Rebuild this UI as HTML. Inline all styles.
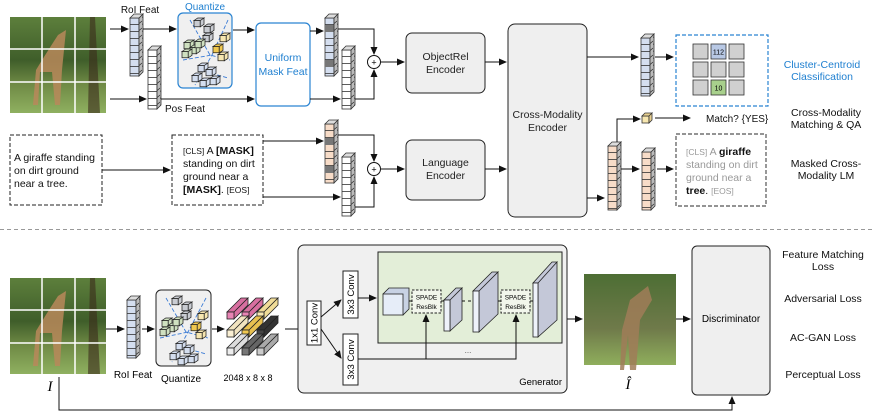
<!DOCTYPE html>
<html><head><meta charset="utf-8"><style>
body{margin:0;background:#fff}
svg{display:block;font-family:"Liberation Sans",sans-serif}
</style></head><body>
<svg width="872" height="417" viewBox="0 0 872 417" xmlns="http://www.w3.org/2000/svg">
<defs>
<marker id="a" markerWidth="8" markerHeight="8" refX="7" refY="4" orient="auto" markerUnits="userSpaceOnUse"><path d="M0,0.5 L8,4 L0,7.5z" fill="#111"/></marker>
<pattern id="pb" width="9" height="7" patternUnits="userSpaceOnUse"><rect width="9" height="7" fill="#d4deef"/><path d="M0,6.5H9" stroke="#333" stroke-width="0.8"/></pattern>
<pattern id="pw" width="9" height="7" patternUnits="userSpaceOnUse"><rect width="9" height="7" fill="#fff"/><path d="M0,6.5H9" stroke="#333" stroke-width="0.8"/></pattern>
<pattern id="po" width="9" height="7" patternUnits="userSpaceOnUse"><rect width="9" height="7" fill="#f7dcc8"/><path d="M0,6.5H9" stroke="#333" stroke-width="0.8"/></pattern>
<pattern id="ps" width="4" height="7" patternUnits="userSpaceOnUse"><rect width="4" height="7" fill="#bbb"/><path d="M0,6.5L4,3" stroke="#333" stroke-width="0.8"/></pattern>
<linearGradient id="img" x1="0" y1="0" x2="0" y2="1"><stop offset="0" stop-color="#5d7f3c"/><stop offset="0.45" stop-color="#3f5e2a"/><stop offset="0.7" stop-color="#6f8a45"/><stop offset="1" stop-color="#8fb060"/></linearGradient>
<linearGradient id="img2" x1="0" y1="0" x2="0" y2="1"><stop offset="0" stop-color="#4d6e34"/><stop offset="0.6" stop-color="#6f7a4a"/><stop offset="1" stop-color="#8fae5c"/></linearGradient>
<g id="cube"><g transform="scale(1.25)"><rect x="0" y="2" width="5" height="5" fill="currentColor" stroke="#222" stroke-width="0.6"/><path d="M0,2 L3,0 L8,0 L5,2z M5,2 L8,0 L8,5 L5,7z" fill="currentColor" stroke="#222" stroke-width="0.6"/></g></g>
</defs>

<!-- ===== TOP ===== -->
<rect x="10" y="17" width="96" height="96" fill="url(#img)"/>
<path d="M95,17 L100,113 L88,113 L90,17z" fill="#3a2a1a" opacity="0.6"/>
<path d="M58,35 L66,30 L62,70 L60,105 L55,105 L52,72 L40,72 L38,105 L33,105 L36,70 Q45,55 58,35z" fill="#b9885a" opacity="0.85"/>
<path d="M42,17V113M75,17V113M10,49H106M10,82H106" stroke="#fff" stroke-width="1.5"/>

<text x="140" y="13" font-size="10" text-anchor="middle" fill="#111">RoI Feat</text>
<text x="205" y="10" font-size="10" text-anchor="middle" fill="#1e7fd0">Quantize</text>
<text x="165" y="112" font-size="10" fill="#111">Pos Feat</text>

<g transform="translate(130,18)"><rect width="9" height="58" fill="url(#pb)" stroke="#333" stroke-width="0.8"/><path d="M9,0 L13,-4 L13,54 L9,58z" fill="url(#ps)" stroke="#333" stroke-width="0.8"/><path d="M0,0 L4,-4 L13,-4 L9,0z" fill="#ddd" stroke="#333" stroke-width="0.8"/></g>
<g transform="translate(148,50)"><rect width="9" height="59" fill="url(#pw)" stroke="#333" stroke-width="0.8"/><path d="M9,0 L13,-4 L13,55 L9,59z" fill="url(#ps)" stroke="#333" stroke-width="0.8"/><path d="M0,0 L4,-4 L13,-4 L9,0z" fill="#ddd" stroke="#333" stroke-width="0.8"/></g>

<path d="M110,29H128" stroke="#111" marker-end="url(#a)"/>
<path d="M143,29H176" stroke="#111" marker-end="url(#a)"/>
<path d="M110,99H146" stroke="#111" marker-end="url(#a)"/>
<path d="M161,99H254" stroke="#111" marker-end="url(#a)"/>

<rect x="178" y="13" width="54" height="75" rx="5" fill="#f0f0f0" stroke="#2a84d2" stroke-width="1.2"/>
<g stroke="#3a7bd5" stroke-width="0.9" stroke-dasharray="4,2" fill="none"><path d="M190,20 L210,55 L230,60 M228,20 L212,55 L195,85 M183,60 L212,55 M200,70 L228,78"/></g>
<g color="#c9ccd2"><use href="#cube" x="194" y="18"/><use href="#cube" x="204" y="24"/><use href="#cube" x="203" y="33"/></g>
<g color="#cfe0c0"><use href="#cube" x="184" y="40"/><use href="#cube" x="190" y="45"/><use href="#cube" x="182" y="49"/><use href="#cube" x="195" y="39"/></g>
<g color="#f7e7b0"><use href="#cube" x="220" y="33"/><use href="#cube" x="218" y="52"/></g><g color="#f0c850"><use href="#cube" x="213" y="44"/></g>
<g color="#d4deef"><use href="#cube" x="198" y="63"/><use href="#cube" x="206" y="67"/><use href="#cube" x="192" y="73"/><use href="#cube" x="210" y="76"/><use href="#cube" x="200" y="78"/></g>
<path d="M233,30H254" stroke="#111" marker-end="url(#a)"/>

<rect x="256" y="23" width="54" height="83" rx="5" fill="#fff" stroke="#2a84d2" stroke-width="1.2"/>
<text x="283" y="61" font-size="10.5" text-anchor="middle" fill="#1e7fd0">Uniform</text>
<text x="283" y="75" font-size="10.5" text-anchor="middle" fill="#1e7fd0">Mask Feat</text>

<g transform="translate(325,18)"><rect width="9" height="58" fill="url(#pb)" stroke="#333" stroke-width="0.8"/><rect y="7" width="9" height="7" fill="#777"/><rect y="42" width="9" height="7" fill="#777"/><path d="M9,0 L13,-4 L13,54 L9,58z" fill="url(#ps)" stroke="#333" stroke-width="0.8"/><path d="M0,0 L4,-4 L13,-4 L9,0z" fill="#ddd" stroke="#333" stroke-width="0.8"/></g>
<g transform="translate(342,50)"><rect width="9" height="59" fill="url(#pw)" stroke="#333" stroke-width="0.8"/><path d="M9,0 L13,-4 L13,55 L9,59z" fill="url(#ps)" stroke="#333" stroke-width="0.8"/><path d="M0,0 L4,-4 L13,-4 L9,0z" fill="#ddd" stroke="#333" stroke-width="0.8"/></g>
<path d="M310,31H323" stroke="#111" marker-end="url(#a)"/>
<path d="M310,99H340" stroke="#111" marker-end="url(#a)"/>
<path d="M338,29H374V54" stroke="#111" fill="none" marker-end="url(#a)"/>
<path d="M355,99H374V70" stroke="#111" fill="none" marker-end="url(#a)"/>
<circle cx="374" cy="62" r="6.5" fill="#fff" stroke="#111"/><text x="374" y="65.5" font-size="9" text-anchor="middle">+</text>
<path d="M381,62H404" stroke="#111" marker-end="url(#a)"/>

<rect x="406" y="33" width="79" height="60" rx="6" fill="#efefef" stroke="#222"/>
<text x="445.5" y="60" font-size="10.5" text-anchor="middle" fill="#222">ObjectRel</text>
<text x="445.5" y="73" font-size="10.5" text-anchor="middle" fill="#222">Encoder</text>
<path d="M485,62H506" stroke="#111" marker-end="url(#a)"/>

<rect x="508" y="24" width="79" height="193" rx="7" fill="#efefef" stroke="#222"/>
<text x="547.5" y="118" font-size="10.5" text-anchor="middle" fill="#222">Cross-Modality</text>
<text x="547.5" y="131" font-size="10.5" text-anchor="middle" fill="#222">Encoder</text>

<rect x="10" y="135" width="92" height="70" fill="none" stroke="#222" stroke-dasharray="4,2"/>
<text font-size="10.5" fill="#111"><tspan x="14" y="161">A giraffe standing</tspan><tspan x="14" y="174">on dirt ground</tspan><tspan x="14" y="187">near a tree.</tspan></text>
<path d="M102,170H170" stroke="#111" marker-end="url(#a)"/>
<rect x="172" y="135" width="91" height="70" fill="none" stroke="#222" stroke-dasharray="4,2"/>
<text font-size="10.5" fill="#111"><tspan x="183" y="154"><tspan font-size="8.5">[CLS]</tspan> A <tspan font-weight="bold">[MASK]</tspan></tspan><tspan x="183" y="167">standing on dirt</tspan><tspan x="183" y="180">ground near a</tspan><tspan x="183" y="193"><tspan font-weight="bold">[MASK]</tspan>. <tspan font-size="8.5">[EOS]</tspan></tspan></text>

<g transform="translate(325,124)"><rect width="9" height="59" fill="url(#po)" stroke="#333" stroke-width="0.8"/><rect y="14" width="9" height="7" fill="#777"/><rect y="42" width="9" height="7" fill="#777"/><path d="M9,0 L13,-4 L13,55 L9,59z" fill="url(#ps)" stroke="#333" stroke-width="0.8"/><path d="M0,0 L4,-4 L13,-4 L9,0z" fill="#ddd" stroke="#333" stroke-width="0.8"/></g>
<g transform="translate(342,157)"><rect width="9" height="59" fill="url(#pw)" stroke="#333" stroke-width="0.8"/><path d="M9,0 L13,-4 L13,55 L9,59z" fill="url(#ps)" stroke="#333" stroke-width="0.8"/><path d="M0,0 L4,-4 L13,-4 L9,0z" fill="#ddd" stroke="#333" stroke-width="0.8"/></g>
<path d="M263,141H323" stroke="#111" marker-end="url(#a)"/>
<path d="M263,197H340" stroke="#111" marker-end="url(#a)"/>
<path d="M338,135H374V161" stroke="#111" fill="none" marker-end="url(#a)"/>
<path d="M355,207H374V177" stroke="#111" fill="none" marker-end="url(#a)"/>
<circle cx="374" cy="169" r="6.5" fill="#fff" stroke="#111"/><text x="374" y="172.5" font-size="9" text-anchor="middle">+</text>
<path d="M381,169H404" stroke="#111" marker-end="url(#a)"/>
<rect x="406" y="140" width="79" height="60" rx="6" fill="#efefef" stroke="#222"/>
<text x="445.5" y="166" font-size="10.5" text-anchor="middle" fill="#222">Language</text>
<text x="445.5" y="179" font-size="10.5" text-anchor="middle" fill="#222">Encoder</text>
<path d="M485,169H506" stroke="#111" marker-end="url(#a)"/>

<path d="M587,57H638" stroke="#111" marker-end="url(#a)"/>
<g transform="translate(641,38)"><rect width="9" height="58" fill="url(#pb)" stroke="#333" stroke-width="0.8"/><path d="M9,0 L13,-4 L13,54 L9,58z" fill="url(#ps)" stroke="#333" stroke-width="0.8"/><path d="M0,0 L4,-4 L13,-4 L9,0z" fill="#ddd" stroke="#333" stroke-width="0.8"/></g>
<path d="M655,57H673" stroke="#111" marker-end="url(#a)"/>
<rect x="676" y="35" width="92" height="71" fill="none" stroke="#2a84d2" stroke-width="1.2" stroke-dasharray="4,2"/>
<g stroke="#333" stroke-width="0.8">
<rect x="693" y="44" width="15" height="15" fill="#d0d0d0"/><rect x="711" y="44" width="15" height="15" fill="#b8c8e4"/><rect x="729" y="44" width="15" height="15" fill="#d0d0d0"/>
<rect x="693" y="62" width="15" height="15" fill="#d0d0d0"/><rect x="711" y="62" width="15" height="15" fill="#d0d0d0"/><rect x="729" y="62" width="15" height="15" fill="#d0d0d0"/>
<rect x="693" y="80" width="15" height="15" fill="#d0d0d0"/><rect x="711" y="80" width="15" height="15" fill="#a8d08c"/><rect x="729" y="80" width="15" height="15" fill="#d0d0d0"/></g>
<text x="718.5" y="54.5" font-size="7" text-anchor="middle">112</text>
<text x="718.5" y="90.5" font-size="7" text-anchor="middle">10</text>
<text x="822" y="68" font-size="10.5" text-anchor="middle" fill="#1e7fd0">Cluster-Centroid</text>
<text x="822" y="80" font-size="10.5" text-anchor="middle" fill="#1e7fd0">Classification</text>

<path d="M587,198H604" stroke="#111" marker-end="url(#a)"/>
<g transform="translate(608,146)"><rect width="9" height="64" fill="url(#po)" stroke="#333" stroke-width="0.8"/><path d="M9,0 L13,-4 L13,60 L9,64z" fill="url(#ps)" stroke="#333" stroke-width="0.8"/><path d="M0,0 L4,-4 L13,-4 L9,0z" fill="#ddd" stroke="#333" stroke-width="0.8"/></g>
<path d="M617,142V119H640" stroke="#111" fill="none" marker-end="url(#a)"/>
<g transform="translate(642,116)"><rect width="7" height="7" fill="#f7e7b0" stroke="#333" stroke-width="0.8"/><path d="M0,0 L3,-3 L10,-3 L7,0z M7,0 L10,-3 L10,4 L7,7z" fill="#e8d090" stroke="#333" stroke-width="0.8"/></g>
<path d="M655,118H690" stroke="#111" marker-end="url(#a)"/>
<text x="706" y="122" font-size="10" fill="#111">Match? {YES}</text>
<text x="826" y="116" font-size="10.5" text-anchor="middle" fill="#111">Cross-Modality</text>
<text x="826" y="128" font-size="10.5" text-anchor="middle" fill="#111">Matching &amp; QA</text>

<path d="M621,169H639" stroke="#111" marker-end="url(#a)"/>
<g transform="translate(642,152)"><rect width="9" height="58" fill="url(#po)" stroke="#333" stroke-width="0.8"/><path d="M9,0 L13,-4 L13,54 L9,58z" fill="url(#ps)" stroke="#333" stroke-width="0.8"/><path d="M0,0 L4,-4 L13,-4 L9,0z" fill="#ddd" stroke="#333" stroke-width="0.8"/></g>
<path d="M657,169H673" stroke="#111" marker-end="url(#a)"/>
<rect x="676" y="134" width="90" height="72" fill="none" stroke="#555" stroke-width="1.2" stroke-dasharray="4,2"/>
<text font-size="10.5" fill="#999"><tspan x="686" y="155"><tspan font-size="8.5">[CLS]</tspan> A <tspan font-weight="bold" fill="#111">giraffe</tspan></tspan><tspan x="686" y="168">standing on dirt</tspan><tspan x="686" y="181">ground near a</tspan><tspan x="686" y="194"><tspan font-weight="bold" fill="#111">tree</tspan><tspan fill="#111">.</tspan> <tspan font-size="8.5">[EOS]</tspan></tspan></text>
<text x="826" y="167" font-size="10.5" text-anchor="middle" fill="#111">Masked Cross-</text>
<text x="826" y="179" font-size="10.5" text-anchor="middle" fill="#111">Modality LM</text>

<path d="M0,229.5H872" stroke="#999" stroke-dasharray="4,3"/>

<!-- ===== BOTTOM ===== -->
<rect x="10" y="278" width="96" height="96" fill="url(#img)"/>
<path d="M95,278 L100,374 L88,374 L90,278z" fill="#3a2a1a" opacity="0.6"/>
<path d="M58,296 L66,291 L62,331 L60,366 L55,366 L52,333 L40,333 L38,366 L33,366 L36,331 Q45,316 58,296z" fill="#b9885a" opacity="0.85"/>
<path d="M42,278V374M75,278V374M10,310H106M10,343H106" stroke="#fff" stroke-width="1.5"/>
<text x="50" y="391" font-size="15" font-style="italic" font-family="Liberation Serif,serif" text-anchor="middle">I</text>
<path d="M59,377V410H732V397" stroke="#111" fill="none" marker-end="url(#a)"/>

<path d="M106,329H124" stroke="#111" marker-end="url(#a)"/>
<g transform="translate(127,300)"><rect width="9" height="58" fill="url(#pb)" stroke="#333" stroke-width="0.8"/><path d="M9,0 L13,-4 L13,54 L9,58z" fill="url(#ps)" stroke="#333" stroke-width="0.8"/><path d="M0,0 L4,-4 L13,-4 L9,0z" fill="#ddd" stroke="#333" stroke-width="0.8"/></g>
<text x="133" y="378" font-size="10" text-anchor="middle">RoI Feat</text>
<path d="M142,329H154" stroke="#111" marker-end="url(#a)"/>
<rect x="156" y="290" width="55" height="76" rx="5" fill="#f0f0f0" stroke="#222"/>
<g stroke="#3a7bd5" stroke-width="0.9" stroke-dasharray="4,2" fill="none"><path d="M166,298 L186,332 L208,338 M206,298 L188,332 L172,362 M160,338 L188,332 M178,346 L206,354"/></g>
<g color="#c9ccd2"><use href="#cube" x="172" y="296"/><use href="#cube" x="182" y="302"/><use href="#cube" x="181" y="311"/></g>
<g color="#cfe0c0"><use href="#cube" x="162" y="318"/><use href="#cube" x="168" y="323"/><use href="#cube" x="160" y="327"/><use href="#cube" x="173" y="317"/></g>
<g color="#f7e7b0"><use href="#cube" x="198" y="311"/><use href="#cube" x="196" y="330"/></g><g color="#f0c850"><use href="#cube" x="191" y="322"/></g>
<g color="#d4deef"><use href="#cube" x="176" y="341"/><use href="#cube" x="184" y="345"/><use href="#cube" x="170" y="351"/><use href="#cube" x="188" y="354"/><use href="#cube" x="178" y="356"/></g>
<text x="181" y="382" font-size="10" text-anchor="middle">Quantize</text>
<path d="M212,329H224" stroke="#111" marker-end="url(#a)"/>

<g stroke="#222" stroke-width="0.8">
<g transform="translate(227,312)"><path d="M0,0 L14,-14 L21,-14 L7,0z M7,0 L21,-14 L21,-7 L7,7z" fill="#d86fa0"/><rect width="7" height="7" fill="#e884b4"/></g>
<g transform="translate(242,312)"><path d="M0,0 L14,-14 L21,-14 L7,0z M7,0 L21,-14 L21,-7 L7,7z" fill="#d86fa0"/><rect width="7" height="7" fill="#e884b4"/></g>
<g transform="translate(257,312)"><path d="M0,0 L14,-14 L21,-14 L7,0z M7,0 L21,-14 L21,-7 L7,7z" fill="#f0dc98"/><rect width="7" height="7" fill="#f7e7b0"/></g>
<g transform="translate(227,330)"><path d="M0,0 L14,-14 L21,-14 L7,0z M7,0 L21,-14 L21,-7 L7,7z" fill="#f2e4c0"/><rect width="7" height="7" fill="#fbf0d4"/></g>
<g transform="translate(242,330)"><path d="M0,0 L14,-14 L21,-14 L7,0z M7,0 L21,-14 L21,-7 L7,7z" fill="#e8c050"/><rect width="7" height="7" fill="#f0c850"/></g>
<g transform="translate(257,330)"><path d="M0,0 L14,-14 L21,-14 L7,0z M7,0 L21,-14 L21,-7 L7,7z" fill="#333"/><rect width="7" height="7" fill="#444"/></g>
<g transform="translate(227,348)"><path d="M0,0 L14,-14 L21,-14 L7,0z M7,0 L21,-14 L21,-7 L7,7z" fill="#ddd"/><rect width="7" height="7" fill="#eee"/></g>
<g transform="translate(242,348)"><path d="M0,0 L14,-14 L21,-14 L7,0z M7,0 L21,-14 L21,-7 L7,7z" fill="#666"/><rect width="7" height="7" fill="#777"/></g>
<g transform="translate(257,348)"><path d="M0,0 L14,-14 L21,-14 L7,0z M7,0 L21,-14 L21,-7 L7,7z" fill="#aaa"/><rect width="7" height="7" fill="#ccc"/></g>
</g>
<text x="248" y="381" font-size="9" text-anchor="middle">2048 x 8 x 8</text>
<path d="M285,329H305" stroke="#111" marker-end="url(#a)"/>

<rect x="298" y="245" width="269" height="148" rx="6" fill="#f0f0f0" stroke="#222"/>
<text x="562" y="385" font-size="9.5" text-anchor="end">Generator</text>
<rect x="307" y="301" width="14" height="44" fill="#fff" stroke="#222"/>
<text transform="translate(317.5,323) rotate(-90)" font-size="9.5" text-anchor="middle">1x1 Conv</text>
<rect x="343" y="271" width="15" height="47" fill="#fff" stroke="#222"/>
<text transform="translate(354,294.5) rotate(-90)" font-size="9.5" text-anchor="middle">3x3 Conv</text>
<rect x="343" y="334" width="15" height="51" fill="#fff" stroke="#222"/>
<text transform="translate(354,359.5) rotate(-90)" font-size="9.5" text-anchor="middle">3x3 Conv</text>
<path d="M321,317L341,300" stroke="#111" marker-end="url(#a)"/>
<path d="M321,329L341,358" stroke="#111" marker-end="url(#a)"/>
<path d="M358,298H376" stroke="#111" marker-end="url(#a)"/>
<rect x="378" y="252" width="184" height="91" fill="#e3eed8" stroke="#222"/>
<g stroke="#222" stroke-width="0.8">
<path d="M383,294 L389,288 L409,288 L409,309 L403,315z" fill="#c8d2e4"/><rect x="383" y="294" width="20" height="21" fill="#e6edf8"/>
<path d="M444,300 L456,288 L462,288 L450,300z M450,300 L462,288 L462,320 L450,331z" fill="#c4c8d8"/><rect x="444" y="300" width="6" height="31" fill="#eef2fa"/>
<path d="M473,291 L492,272 L498,272 L479,291z M479,291 L498,272 L498,314 L479,332z" fill="#c4c8d8"/><rect x="473" y="291" width="6" height="41" fill="#eef2fa"/>
<path d="M533,283 L552,262 L557,262 L538,283z M538,283 L557,262 L557,320 L538,337z" fill="#c4c8d8"/><rect x="533" y="283" width="5" height="54" fill="#eef2fa"/>
</g>
<rect x="412" y="290" width="29" height="23" fill="#f2f6ec" stroke="#222" stroke-dasharray="2.5,1.5"/>
<text x="426.5" y="299.5" font-size="6.5" text-anchor="middle">SPADE</text><text x="426.5" y="309" font-size="6.5" text-anchor="middle">ResBlk</text>
<rect x="501" y="290" width="29" height="23" fill="#f2f6ec" stroke="#222" stroke-dasharray="2.5,1.5"/>
<text x="515.5" y="299.5" font-size="6.5" text-anchor="middle">SPADE</text><text x="515.5" y="309" font-size="6.5" text-anchor="middle">ResBlk</text>
<path d="M409,301H412M441,301H444M462,301H465M468,301H471M498,301H501M530,301H533" stroke="#111"/>
<path d="M358,359H516V315" stroke="#111" fill="none" marker-end="url(#a)"/>
<path d="M426,359V315" stroke="#111" fill="none" marker-end="url(#a)"/>
<text x="468" y="353" font-size="8" text-anchor="middle" fill="#555">...</text>

<path d="M567,319H582" stroke="#111" marker-end="url(#a)"/>
<rect x="584" y="274" width="92" height="91" fill="url(#img2)"/>
<path d="M620,370 L622,330 L630,300 L648,286 L652,300 L640,320 L636,370 L630,370 L628,335 L624,370z" fill="#a07c58" opacity="0.85"/>
<text x="628" y="389" font-size="15" font-style="italic" font-family="Liberation Serif,serif" text-anchor="middle">Î</text>
<path d="M676,319H690" stroke="#111" marker-end="url(#a)"/>
<rect x="692" y="246" width="78" height="149" rx="5" fill="#efefef" stroke="#222"/>
<text x="731" y="322" font-size="10" text-anchor="middle">Discriminator</text>

<g font-size="10.5" text-anchor="middle" fill="#111">
<text x="823" y="258">Feature Matching</text><text x="823" y="270">Loss</text>
<text x="823" y="302">Adversarial Loss</text>
<text x="823" y="341">AC-GAN Loss</text>
<text x="823" y="378">Perceptual Loss</text>
</g>
</svg>
</body></html>
